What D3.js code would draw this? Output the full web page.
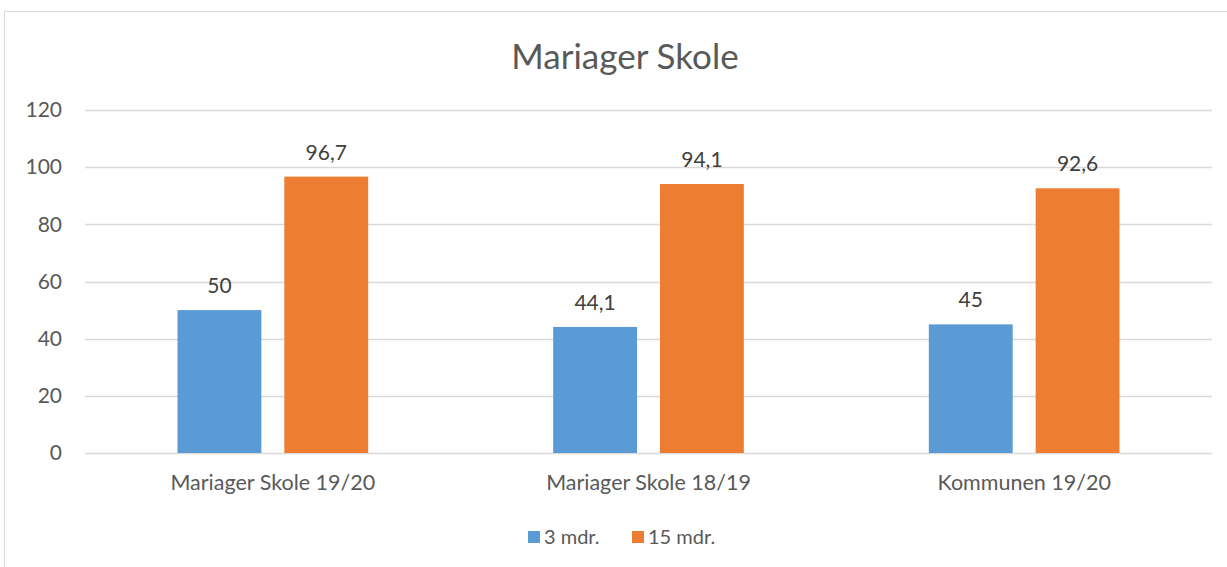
<!doctype html>
<html lang="da">
<head>
<meta charset="UTF-8">
<title>Mariager Skole</title>
<script src="https://cdn.jsdelivr.net/npm/d3@7"></script>
<style>
	body { margin: 0; background: #fff; }
	text { font-family: Lato, "Open Sans", sans-serif; }
</style>
</head>
<body>
<div id="container"></div>
<script>
	var categories = ["Mariager Skole 19/20", "Mariager Skole 18/19", "Kommunen 19/20"];
	var seriesNames = ["3 mdr.", "15 mdr."];
	var values3 = [50, 44.1, 45];
	var values15 = [96.7, 94.1, 92.6];
	var yTicks = [0, 20, 40, 60, 80, 100, 120];
	var colors = ["#5B9BD5", "#ED7D31"];

	var width = 1227, height = 567;
	var margin = { left: 85, top: 110, right: 15, bottom: 114 };
	var g_width = width - margin.left - margin.right;
	var g_height = height - margin.top - margin.bottom;

	var svg = d3.select("#container").append("svg")
		.attr("width", width)
		.attr("height", height);

	// chart frame
	svg.append("rect")
		.attr("x", 4.5).attr("y", 11.5)
		.attr("width", 1240).attr("height", 600)
		.attr("fill", "none")
		.attr("stroke", "#d9d9d9");

	svg.append("text")
		.attr("x", 625).attr("y", 69)
		.attr("text-anchor", "middle")
		.attr("font-size", 35)
		.attr("fill", "#595959")
		.text("Mariager Skole");

	var x0 = d3.scaleBand().domain(categories).range([0, g_width]).padding(0);
	var x1 = d3.scaleBand().domain(seriesNames)
		.range([92.5, x0.bandwidth() - 92.5]).paddingInner(0.215);
	var y = d3.scaleLinear().domain([0, 120]).range([g_height, 0]);

	var g = svg.append("g")
		.attr("transform", "translate(" + margin.left + "," + margin.top + ")");

	// gridlines
	g.selectAll(".grid").data(yTicks).enter().append("line")
		.attr("x1", 0).attr("x2", g_width)
		.attr("y1", function (d) { return Math.round(y(d)) + 0.5; })
		.attr("y2", function (d) { return Math.round(y(d)) + 0.5; })
		.attr("stroke", "#d9d9d9").attr("stroke-width", 1.3);

	var y_axis = d3.axisLeft(y).tickValues(yTicks).tickSize(0).tickPadding(23);
	var ya = g.append("g").call(y_axis);
	ya.select(".domain").remove();
	ya.selectAll("text").attr("font-size", 21).attr("fill", "#595959")
		.attr("font-family", "Lato, sans-serif");

	var x_axis = d3.axisBottom(x0).tickSize(0).tickPadding(22);
	var xa = g.append("g").attr("transform", "translate(0," + g_height + ")").call(x_axis);
	xa.select(".domain").remove();
	xa.selectAll("text").attr("font-size", 21.5).attr("fill", "#595959")
		.attr("font-family", "Lato, sans-serif");

	var series = [values3, values15];
	var rows = [];
	categories.forEach(function (c, i) {
		seriesNames.forEach(function (s, j) {
			rows.push({ cat: c, s: s, j: j, v: series[j][i] });
		});
	});

	g.selectAll(".bar").data(rows).enter().append("rect")
		.attr("x", function (d) { return x0(d.cat) + x1(d.s); })
		.attr("y", function (d) { return y(d.v); })
		.attr("width", x1.bandwidth())
		.attr("height", function (d) { return g_height - y(d.v); })
		.attr("fill", function (d) { return colors[d.j]; });

	g.selectAll(".lbl").data(rows).enter().append("text")
		.attr("x", function (d) { return x0(d.cat) + x1(d.s) + x1.bandwidth() / 2; })
		.attr("y", function (d) { return y(d.v) - 17; })
		.attr("text-anchor", "middle")
		.attr("font-size", 21)
		.attr("fill", "#404040")
		.text(function (d) { return String(d.v).replace(".", ","); });

	// legend
	var legX = [528, 632];
	var leg = svg.selectAll(".leg").data(seriesNames).enter().append("g")
		.attr("transform", function (d, i) { return "translate(" + legX[i] + ",531)"; });
	leg.append("rect").attr("width", 12).attr("height", 12)
		.attr("fill", function (d, i) { return colors[i]; });
	leg.append("text").attr("x", 16).attr("y", 13)
		.attr("font-size", 20).attr("fill", "#595959")
		.text(function (d) { return d; });
</script>
</body>
</html>
